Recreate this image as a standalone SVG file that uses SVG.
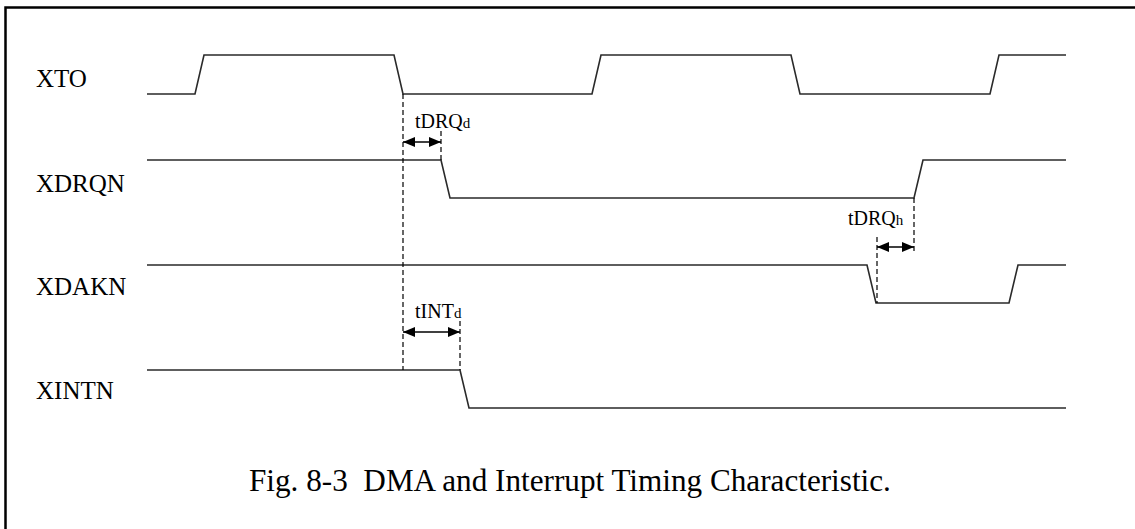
<svg xmlns="http://www.w3.org/2000/svg" width="1135" height="529" viewBox="0 0 1135 529">
  <defs>
    <style>
      .sig { fill: none; stroke: #2a2a2a; stroke-width: 1.6; stroke-linejoin: miter; }
      .dash { fill: none; stroke: #000; stroke-width: 1.2; stroke-dasharray: 5 3; }
      .dim { fill: none; stroke: #000; stroke-width: 1.6; marker-start: url(#ah); marker-end: url(#ah); }
      .name { font-family: "Liberation Serif", "Times New Roman", serif; font-size: 25px; fill: #000; }
      .lbl { font-family: "Liberation Serif", "Times New Roman", serif; font-size: 20px; fill: #000; }
      .sub { font-size: 15px; }
      .cap { font-family: "Liberation Serif", "Times New Roman", serif; font-size: 31.2px; fill: #000; }
    </style>
    <marker id="ah" viewBox="0 0 12 10" refX="12" refY="5" markerWidth="12" markerHeight="10" markerUnits="userSpaceOnUse" orient="auto-start-reverse">
      <path d="M0,0 L12,5 L0,10 Z" fill="#000"/>
    </marker>
  </defs>

  <rect width="1135" height="529" fill="#fff"/>
  <!-- frame -->
  <rect x="5.5" y="7.5" width="1140" height="540" fill="none" stroke="#000" stroke-width="2.5"/>

  <!-- signal names and waveforms -->
  <g id="node-xto">
    <text class="name" x="36" y="87">XTO</text>
    <polyline class="sig" points="147,94 195,94 204,55 394,55 403,94 592,94 601,55 791,55 800,94 990,94 999,55 1066,55"/>
  </g>
  <g id="node-xdrqn">
    <text class="name" x="36" y="192">XDRQN</text>
    <polyline class="sig" points="147,160 441,160 450,198 914,198 923,160 1066,160"/>
  </g>
  <g id="node-xdakn">
    <text class="name" x="36" y="295">XDAKN</text>
    <polyline class="sig" points="147,265 867,265 876,303 1009,303 1018,265 1066,265"/>
  </g>
  <g id="node-xintn">
    <text class="name" x="36" y="399">XINTN</text>
    <polyline class="sig" points="147,370 460,370 469,408 1066,408"/>
  </g>

  <!-- timing references and dimension arrows -->
  <g id="connectors">
    <line class="dash" x1="403" y1="94" x2="403" y2="370"/>
    <line class="dash" x1="441" y1="131" x2="441" y2="160"/>
    <line class="dim" x1="403" y1="142" x2="441" y2="142"/>
    <line class="dash" x1="460" y1="321" x2="460" y2="370"/>
    <line class="dim" x1="403" y1="332" x2="460" y2="332"/>
    <line class="dash" x1="914" y1="198" x2="914" y2="252"/>
    <line class="dash" x1="877" y1="237" x2="877" y2="303"/>
    <line class="dim" x1="877" y1="247" x2="914" y2="247"/>
  </g>

  <g id="labels">
    <text class="lbl" x="415" y="128">tDRQ<tspan class="sub">d</tspan></text>
    <text class="lbl" x="848" y="225">tDRQ<tspan class="sub">h</tspan></text>
    <text class="lbl" x="415" y="318">tINT<tspan class="sub">d</tspan></text>
  </g>

  <text class="cap" x="249" y="491" xml:space="preserve">Fig. 8-3  DMA and Interrupt Timing Characteristic.</text>
</svg>
